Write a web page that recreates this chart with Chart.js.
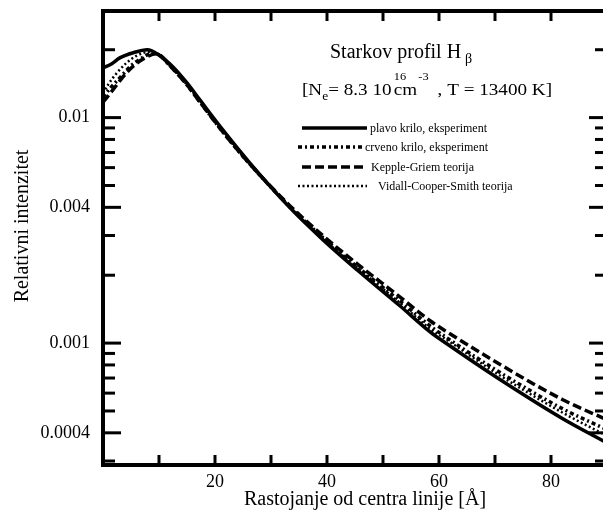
<!DOCTYPE html>
<html><head><meta charset="utf-8">
<script src="https://cdn.jsdelivr.net/npm/chart.js@4/dist/chart.umd.min.js"></script>
<style>html,body{margin:0;padding:0;overflow:hidden;background:#fff}</style>
</head><body>
<canvas id="c" width="612" height="514"></canvas>
<script>
// ---- data ----
const seriesLabels = ['plavo krilo, eksperiment','crveno krilo, eksperiment','Kepple-Griem teorija','Vidall-Cooper-Smith teorija'];

const xPlavo = [0,1.5,3,5.4,7.9,10.2,12.5,15,17.3,21.4,26.2,33.4,39.3,45.4,53,58.4,61.4,70.4,82.1,90];
const yPlavo = [0.0166,0.0173,0.0184,0.0194,0.0200,0.01877,0.01678,0.01425,0.01198,0.00882,0.0063,0.00398,0.00287,0.00211,0.001464,0.001122,0.000993,0.000702,0.000462,0.000361];

const xCrveno = [0,1.5,3,5,7,9,12.5,15,17.3,21.4,26.2,33.4,39.3,45.4,53,58.4,61.4,70.4,82.1,90];
const yCrveno = [0.0123,0.0137,0.0150,0.0170,0.0184,0.0194,0.01644,0.01396,0.01174,0.00864,0.00623,0.00402,0.00293,0.00218,0.00154,0.001193,0.001056,0.000754,0.000511,0.000413];

const xKepple = [0,2,3.5,5.5,7.5,9.5,12.5,15,17.3,21.4,26.2,33.4,39.3,45.4,53,58.4,61.4,70.4,82.1,90];
const yKepple = [0.0117,0.0135,0.0151,0.0170,0.0184,0.0192,0.01644,0.01396,0.01174,0.00864,0.00623,0.00406,0.00299,0.002246,0.001604,0.001256,0.001122,0.000818,0.000561,0.000457];

const xVidall = [0,1,2.5,4,6,8.5,12.5,15,17.3,21.4,26.2,33.4,39.3,45.4,53,58.4,61.4,70.4,82.1,90];
const yVidall = [0.0128,0.0141,0.0158,0.0173,0.0188,0.0196,0.01644,0.01396,0.01174,0.00864,0.00623,0.00398,0.0029,0.002158,0.001509,0.001157,0.001034,0.000731,0.000491,0.000388];

const yTickValues = [0.0003,0.0004,0.0005,0.0006,0.0007,0.0008,0.0009,0.001,0.002,0.003,0.004,0.005,0.006,0.007,0.008,0.009,0.01,0.02];
const yTickLabels = ['0.01','0.004','0.001','0.0004'];
const xTickValues = [10,20,30,40,50,60,70,80,90];
const xTickLabels = ['20','40','60','80'];

// ---- chart ----
const FONT = '"Liberation Serif","Times New Roman",serif';
const pts = (xs, ys) => xs.map((x, i) => ({x, y: ys[i]}));
const yLabel = v => yTickLabels.find(l => Math.abs(parseFloat(l) - v) / v < 1e-6) || '';
const xLabel = v => xTickLabels.includes(String(v)) ? String(v) : '';

const styles = [
  {borderDash: [], borderWidth: 3.5},
  {borderDash: [4,3,2,3], borderWidth: 3.5},
  {borderDash: [9,4], borderWidth: 3.5},
  {borderDash: [2,2.5], borderWidth: 2.5}
];
const seriesData = [pts(xPlavo,yPlavo), pts(xCrveno,yCrveno), pts(xKepple,yKepple), pts(xVidall,yVidall)];

const datasets = seriesLabels.map((lab, i) => ({
  label: lab,
  data: seriesData[i],
  borderColor: '#000',
  borderWidth: styles[i].borderWidth,
  borderDash: styles[i].borderDash,
  pointRadius: 0,
  fill: false,
  cubicInterpolationMode: 'monotone',
  order: 3 - i
}));

function line(ctx, x1, y1, x2, y2) { ctx.beginPath(); ctx.moveTo(x1, y1); ctx.lineTo(x2, y2); ctx.stroke(); }

const frame = {
  id: 'frame',
  afterDraw(chart) {
    const {ctx, chartArea: a, scales: {x, y}} = chart;
    ctx.save();
    ctx.strokeStyle = '#000'; ctx.fillStyle = '#000'; ctx.lineCap = 'butt';
    ctx.lineWidth = 3;
    y.ticks.forEach(t => {
      const p = y.getPixelForValue(t.value);
      const L = yLabel(t.value) ? 18 : 12;
      line(ctx, a.left, p, a.left + L, p);
      line(ctx, a.right, p, a.right - L, p);
    });
    x.ticks.forEach(t => {
      if (t.value <= 0 || t.value >= 90) return;
      const p = x.getPixelForValue(t.value);
      line(ctx, p, a.bottom, p, a.bottom - 10);
      line(ctx, p, a.top, p, a.top + 10);
    });
    ctx.lineWidth = 4;
    line(ctx, a.left - 2, a.top, a.right, a.top);
    line(ctx, a.right, a.top, a.right, a.bottom);

    // axis titles
    ctx.font = '20px ' + FONT;
    ctx.textAlign = 'center'; ctx.textBaseline = 'alphabetic';
    ctx.fillText('Rastojanje od centra linije [Å]', 365, 505);
    ctx.save();
    ctx.translate(28, 226); ctx.rotate(-Math.PI / 2);
    ctx.fillText('Relativni intenzitet', 0, 0);
    ctx.restore();

    // title block
    ctx.textAlign = 'left';
    ctx.font = '20px ' + FONT;
    ctx.fillText('Starkov profil H', 330, 58);
    ctx.font = '14px ' + FONT;
    ctx.fillText('β', 465, 63);

    // second line, stretched horizontally to the reference width
    const parts = [
      {t: '[N', s: 17, y: 95},
      {t: 'e', s: 12, y: 100},
      {t: '= 8.3 10', s: 17, y: 95, gap: 2},
      {t: '16', s: 11, y: 80, stack: true},
      {t: 'cm', s: 17, y: 95, gap: 1},
      {t: '-3', s: 11, y: 80, gap: 8},
      {t: ', T = 13400 K]', s: 17, y: 95}
    ];
    let W = 0;
    const widths = parts.map(p => { ctx.font = p.s + 'px ' + FONT; return ctx.measureText(p.t).width; });
    parts.forEach((p, i) => { if (!p.stack) W += widths[i] + (p.gap || 0); });
    ctx.save();
    ctx.translate(302, 0); ctx.scale(250 / W, 1);
    let cx = 0;
    parts.forEach((p, i) => {
      ctx.font = p.s + 'px ' + FONT;
      ctx.fillText(p.t, cx, p.y);
      if (!p.stack) cx += widths[i] + (p.gap || 0);
    });
    ctx.restore();

    // legend
    const rows = [
      {y: 128, x1: 302, x2: 367, tx: 370},
      {y: 147, x1: 298, x2: 362, tx: 365},
      {y: 167, x1: 302, x2: 363, tx: 371},
      {y: 186, x1: 298, x2: 367, tx: 378}
    ];
    ctx.font = '12px ' + FONT;
    ctx.textBaseline = 'middle';
    chart.data.datasets.forEach((ds, i) => {
      const r = rows[i];
      ctx.save();
      ctx.lineWidth = ds.borderWidth;
      ctx.setLineDash(ds.borderDash);
      line(ctx, r.x1, r.y, r.x2, r.y);
      ctx.restore();
      ctx.fillText(ds.label, r.tx, r.y + 1);
    });
    ctx.restore();
  }
};

new Chart(document.getElementById('c'), {
  type: 'line',
  data: {datasets},
  options: {
    responsive: false,
    animation: false,
    events: [],
    layout: {padding: {top: 11, right: 5, left: 0, bottom: 0}},
    plugins: {legend: {display: false}, tooltip: {enabled: false}, title: {display: false}},
    scales: {
      x: {
        type: 'linear', min: 0, max: 90,
        afterBuildTicks: s => { s.ticks = xTickValues.map(v => ({value: v})); },
        afterFit: s => { s.height = 49; s.paddingLeft = 0; s.paddingRight = 0; },
        grid: {display: false, drawTicks: false},
        border: {display: true, color: '#000', width: 4},
        ticks: {autoSkip: false, maxRotation: 0, padding: 6, color: '#000', font: {family: FONT, size: 18}, callback: v => xLabel(v)}
      },
      y: {
        type: 'logarithmic', min: 0.000288, max: 0.0297,
        afterBuildTicks: s => { s.ticks = yTickValues.map(v => ({value: v})); },
        afterFit: s => { s.width = 103; s.paddingTop = 0; s.paddingBottom = 0; },
        grid: {display: false, drawTicks: false},
        border: {display: true, color: '#000', width: 4},
        ticks: {autoSkip: false, padding: 13, color: '#000', font: {family: FONT, size: 18}, callback: v => yLabel(v)}
      }
    }
  },
  plugins: [frame]
});
</script>
</body></html>
